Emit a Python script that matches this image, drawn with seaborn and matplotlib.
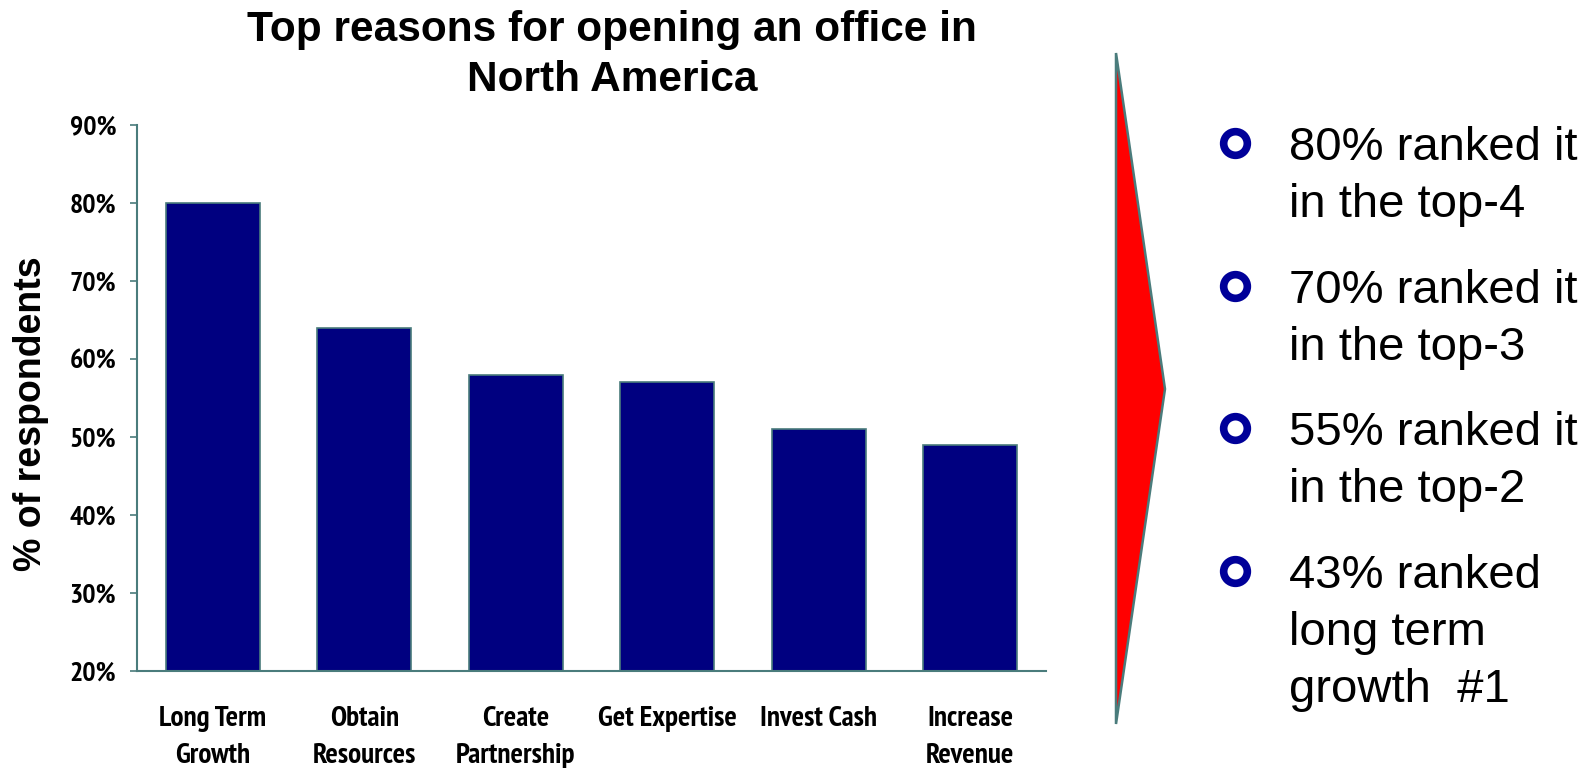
import matplotlib
matplotlib.use("Agg")
import matplotlib.pyplot as plt
from matplotlib import font_manager
from matplotlib.patches import Polygon
import seaborn as sns
import pandas as pd

# Survey data
categories = ["Long Term\nGrowth", "Obtain\nResources", "Create\nPartnership",
              "Get Expertise", "Invest Cash", "Increase\nRevenue"]
share_pct = [80, 64, 58, 57, 51, 49]
y_ticks = [20, 30, 40, 50, 60, 70, 80, 90]

title_lines = ["Top reasons for opening an office in", "North America"]
y_label = "% of respondents"
bullets = [
    ["80% ranked it", "in the top-4"],
    ["70% ranked it", "in the top-3"],
    ["55% ranked it", "in the top-2"],
    ["43% ranked", "long term", "growth  #1"],
]

sns.set_theme(style="white")
plt.rcParams["font.family"] = ["Liberation Sans", "DejaVu Sans"]
plt.rcParams["text.color"] = "black"
plt.rcParams["axes.labelcolor"] = "black"
plt.rcParams["xtick.color"] = "black"
plt.rcParams["ytick.color"] = "black"

# Pick a bold condensed sans for the axis tick labels
bold_faces = {f.name for f in font_manager.fontManager.ttflist
              if (isinstance(f.weight, int) and f.weight >= 700) or f.weight == "bold"}
narrow = "Liberation Sans"
ytick_size, xtick_size = 15.5, 16.5
for cand in ["Liberation Sans Narrow", "Arial Narrow", "Arimo Narrow",
             "PT Sans Narrow", "Archivo Narrow", "Roboto Condensed",
             "Pragati Narrow", "Asap Condensed"]:
    if cand in bold_faces:
        narrow = cand
        ytick_size, xtick_size = 20, 21
        break

AXIS_COLOR = "#4a7c7c"
BAR_COLOR = "#000080"

W, H = 1595, 768
fig = plt.figure(figsize=(W / 100, H / 100), dpi=100)
ax = fig.add_axes([137 / W, 1 - 671 / H, (1046 - 137) / W, (671 - 125) / H])

df = pd.DataFrame({"reason": categories, "pct": share_pct})
sns.barplot(data=df, x="reason", y="pct", color=BAR_COLOR, saturation=1,
            width=0.62, edgecolor=AXIS_COLOR, linewidth=1.2, ax=ax)

ax.set_xlim(-0.5, len(categories) - 0.5)
ax.set_ylim(y_ticks[0], y_ticks[-1])
ax.set_yticks(y_ticks)
ax.set_yticklabels([f"{t}%" for t in y_ticks], fontfamily=narrow,
                   fontweight="bold", fontsize=ytick_size)
ax.set_xticks(range(len(categories)))
ax.set_xticklabels(categories, fontfamily=narrow, fontweight="bold",
                   fontsize=xtick_size, linespacing=1.55, va="top")
ax.tick_params(axis="y", direction="out", length=5, width=1.2,
               color=AXIS_COLOR, pad=10, left=True)
ax.tick_params(axis="x", length=0, pad=25)
ax.set_xlabel("")
ax.set_ylabel(y_label, fontsize=27, fontweight="bold")
ax.yaxis.set_label_coords((31 - 137) / (1046 - 137), (671 - 414) / (671 - 125))
ax.yaxis.label.set_verticalalignment("center")
for side in ["top", "right"]:
    ax.spines[side].set_visible(False)
for side in ["left", "bottom"]:
    ax.spines[side].set_color(AXIS_COLOR)
    ax.spines[side].set_linewidth(1.5)

# Title, two centred lines
fig.text(612 / W, 1 - 41 / H, title_lines[0], ha="center", va="baseline",
         fontsize=30.5, fontweight="bold")
fig.text(612 / W, 1 - 91 / H, title_lines[1], ha="center", va="baseline",
         fontsize=30.5, fontweight="bold")

# Overlay in pixel coordinates for the arrow and the bullet list
ov = fig.add_axes([0, 0, 1, 1], facecolor="none")
ov.set_xlim(0, W)
ov.set_ylim(H, 0)
ov.axis("off")

ov.add_patch(Polygon([(1116, 53), (1165, 389), (1116, 724)], closed=True,
                     facecolor="#ff0000", edgecolor=AXIS_COLOR, linewidth=1.8))

group_base = [160, 303, 445, 588]
line_step = 57
for lines, base in zip(bullets, group_base):
    ov.scatter([1235], [base - 17], s=290, facecolor="white",
               edgecolor="#000099", linewidth=5.5, zorder=3)
    for k, line in enumerate(lines):
        ov.text(1289, base + k * line_step, line, ha="left", va="baseline",
                fontsize=34, color="black")

fig.savefig("out.png", dpi=100)
